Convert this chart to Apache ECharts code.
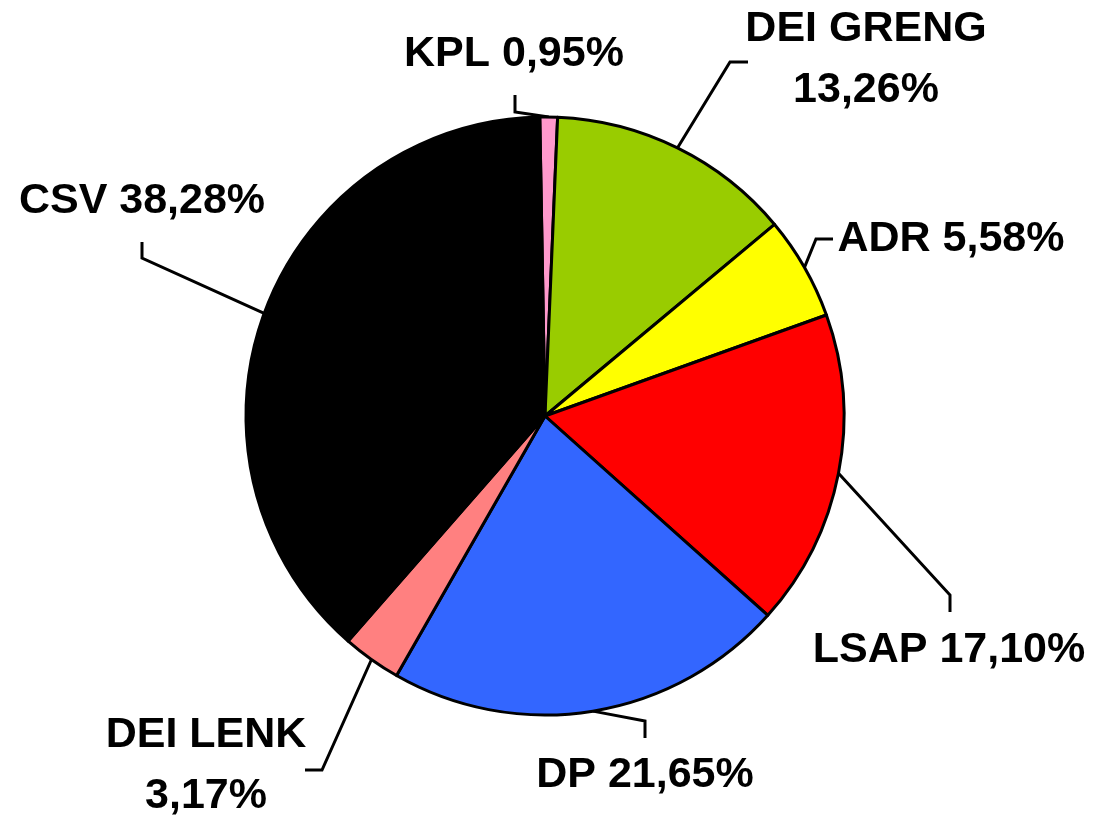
<!DOCTYPE html>
<html>
<head>
<meta charset="utf-8">
<script src="https://cdn.jsdelivr.net/npm/echarts@6/dist/echarts.min.js"></script>
<style>
  html, body { margin: 0; padding: 0; background: #fff; }
  #chart { width: 1095px; height: 821px; }
</style>
</head>
<body>
<div id="chart"></div>
<script>
// party shares, clockwise from 12 o'clock
const parties = ['KPL', 'DEI GRENG', 'ADR', 'LSAP', 'DP', 'DEI LENK', 'CSV'];
const shares = [0.95, 13.26, 5.58, 17.10, 21.65, 3.17, 38.28];
const colors = ['#FF99CC', '#99CC00', '#FFFF00', '#FF0000', '#3366FF', '#FF8080', '#000000'];
// names whose percentage sits on a second line
const twoLine = ['DEI GRENG', 'DEI LENK'];

// label centre, leader elbow and leader end (px)
const labelPos = [[514, 54], [866, 60], [951, 239], [949, 650], [645, 775], [206, 766], [142, 201]];
const elbows = [[515, 112], [730, 62], [816, 239], [950, 595], [645, 721], [322, 770], [142, 258]];
const ends = [[515, 95], [748, 62], [833, 239], [950, 612], [645, 738], [305, 770], [142, 242]];

const chart = echarts.init(document.getElementById('chart'));

chart.setOption({
  animation: false,
  series: [{
    type: 'pie',
    center: [545, 416],
    radius: 299,
    startAngle: 91,
    clockwise: true,
    avoidLabelOverlap: false,
    data: parties.map((name, i) => ({
      name,
      value: shares[i],
      itemStyle: { color: colors[i] }
    })),
    itemStyle: { borderColor: '#000', borderWidth: 3 },
    emphasis: { disabled: true },
    label: {
      show: true,
      position: 'outside',
      color: '#000',
      fontFamily: 'Liberation Sans, Arial, sans-serif',
      fontWeight: 'bold',
      fontSize: 43,
      lineHeight: 61,
      align: 'center',
      formatter: (p) => {
        const pct = p.value.toFixed(2).replace('.', ',') + '%';
        return p.name + (twoLine.includes(p.name) ? '\n' : ' ') + pct;
      }
    },
    labelLine: {
      show: true,
      length: 20,
      length2: 20,
      lineStyle: { color: '#000', width: 3 }
    },
    labelLayout: (p) => {
      const i = p.dataIndex;
      const pts = p.labelLinePoints;
      return {
        x: labelPos[i][0],
        y: labelPos[i][1],
        align: 'center',
        verticalAlign: 'middle',
        labelLinePoints: [pts ? pts[0] : elbows[i], elbows[i], ends[i]]
      };
    }
  }]
});
</script>
</body>
</html>
